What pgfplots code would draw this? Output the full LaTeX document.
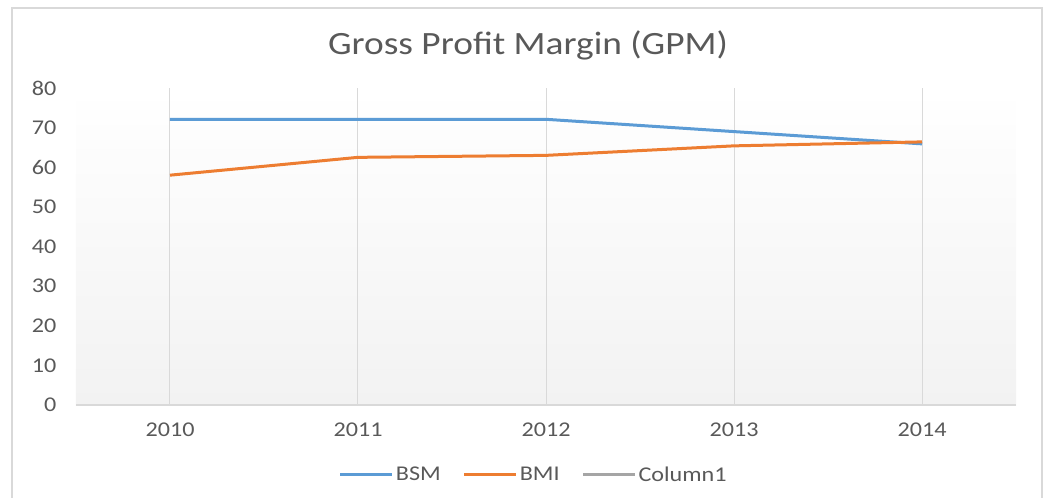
\documentclass[border=0pt]{standalone}
\usepackage{pgfplots}
\pgfplotsset{compat=1.18}
\usepackage{fontspec}
\setmainfont{Carlito}
\definecolor{txt}{HTML}{595959}
\definecolor{gridc}{HTML}{D9D9D9}
\definecolor{bsm}{HTML}{5B9BD5}
\definecolor{bmi}{HTML}{ED7D31}
\definecolor{colone}{HTML}{A5A5A5}
\definecolor{bgb}{HTML}{F2F2F2}
\newcommand{\sx}[1]{\scalebox{1.15}[1]{#1}}
\begin{document}
\begin{tikzpicture}
\useasboundingbox (-76pt,-93pt) rectangle (969pt,405pt);
\draw[gridc, line width=1.5pt] (-64pt,-100pt) -- (-64pt,397pt) -- (966pt,397pt) -- (966pt,-100pt);
\begin{axis}[
  at={(0pt,0pt)}, anchor=south west,
  scale only axis, width=940pt, height=317pt,
  xmin=-0.5, xmax=4.5, ymin=0, ymax=80,
  xtick={0,1,2,3,4}, xticklabels={\sx{2010},\sx{2011},\sx{2012},\sx{2013},\sx{2014}},
  ytick={0,10,...,80},
  yticklabel={\sx{\pgfmathprintnumber{\tick}}},
  /pgf/number format/assume math mode=true,
  major tick length=0pt,
  tick style={draw=none},
  axis x line*=bottom, axis y line*=left,
  y axis line style={draw=none},
  x axis line style={gridc, line width=1.2pt, -},
  xmajorgrids, major grid style={gridc, line width=1pt},
  axis background/.style={shade, top color=white, bottom color=bgb},
  ticklabel style={text=txt, font=\fontsize{21}{21}\selectfont},
  yticklabel style={anchor=east, xshift=-16pt},
  xticklabel style={anchor=north, yshift=-14pt},
  clip=false,
  legend columns=3,
  legend style={at={(0.487,-0.22)}, anchor=center, draw=none, fill=none,
    font=\fontsize{21}{21}\selectfont, text=txt,
    /tikz/every even column/.append style={column sep=20pt}},
  legend image code/.code={\draw[#1] (0pt,0pt) -- (52pt,0pt);},
]
\addplot[bsm, line width=3pt] coordinates {(0,72.1) (1,72.1) (2,72.1) (3,69.0) (4,65.9)};
\addlegendentry{\sx{BSM}}
\addplot[bmi, line width=3pt] coordinates {(0,58.0) (1,62.5) (2,63.0) (3,65.4) (4,66.4)};
\addlegendentry{\sx{BMI}}
\addlegendimage{colone, line width=3pt}
\addlegendentry{\sx{Column1}}
\end{axis}
\node[text=txt, font=\fontsize{32.5}{32.5}\selectfont] at (452pt,360pt) {\sx{Gross Profit Margin (GPM)}};
\end{tikzpicture}
\end{document}
